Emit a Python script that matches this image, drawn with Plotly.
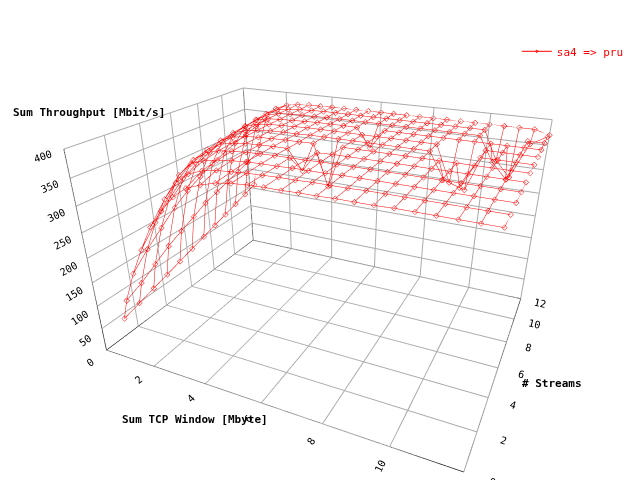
import plotly.graph_objects as go

# Sum TCP window [Mbyte] sampled along each row
windows = [0.25, 0.5, 1, 1.5, 2, 2.5, 3, 3.5, 4, 4.5, 5, 5.5, 6, 6.5, 7, 7.5, 8, 8.5, 9, 9.5, 10, 10.5, 11, 11.5, 12]
streams = [1, 2, 3, 4, 5, 6, 7, 8, 9, 10, 11, 12]

# throughput [Mbit/s], one row per stream count
throughput = [
    [50, 95, 160, 215, 265, 300, 330, 350, 360, 368, 372, 374, 375, 375, 376, 376, 377, 377, 377, 378, 378, 378, 378, 378, 378],
    [60, 110, 190, 250, 300, 335, 355, 365, 370, 372, 374, 375, 376, 376, 377, 377, 377, 378, 378, 378, 378, 378, 378, 378, 378],
    [70, 130, 215, 280, 330, 355, 365, 370, 373, 375, 376, 376, 377, 377, 377, 378, 378, 378, 378, 378, 378, 378, 378, 378, 378],
    [80, 150, 240, 305, 345, 362, 370, 373, 375, 376, 377, 377, 377, 378, 378, 378, 378, 378, 378, 378, 378, 378, 378, 378, 378],
    [90, 165, 260, 320, 352, 366, 372, 375, 376, 377, 377, 340, 377, 378, 378, 378, 378, 378, 378, 378, 378, 378, 378, 378, 378],
    [100, 180, 275, 330, 358, 368, 373, 375, 376, 377, 377, 378, 300, 378, 378, 378, 378, 378, 378, 378, 378, 378, 378, 378, 378],
    [110, 195, 290, 340, 362, 370, 374, 376, 377, 377, 378, 378, 378, 378, 378, 378, 378, 378, 378, 330, 320, 378, 378, 378, 378],
    [120, 205, 300, 345, 365, 372, 375, 376, 377, 378, 378, 378, 378, 378, 378, 378, 378, 378, 378, 310, 300, 378, 378, 378, 378],
    [130, 215, 310, 350, 367, 373, 375, 376, 377, 378, 378, 378, 378, 340, 378, 378, 378, 378, 378, 378, 378, 378, 378, 378, 378],
    [140, 225, 318, 355, 368, 374, 376, 377, 377, 378, 378, 378, 378, 378, 378, 378, 378, 378, 378, 378, 378, 330, 300, 378, 378],
    [150, 235, 325, 358, 370, 374, 376, 377, 378, 378, 378, 378, 378, 378, 378, 378, 378, 378, 378, 378, 378, 320, 290, 360, 378],
    [160, 245, 330, 360, 371, 375, 377, 377, 378, 378, 378, 378, 378, 378, 378, 378, 378, 378, 378, 378, 378, 378, 378, 378, 370],
]

xs, ys, zs = [], [], []
# rows along the window axis
for s, row in zip(streams, throughput):
    xs += windows + [None]
    ys += [s] * len(windows) + [None]
    zs += row + [None]
# columns along the streams axis
for i, w in enumerate(windows):
    xs += [w] * len(streams) + [None]
    ys += streams + [None]
    zs += [row[i] for row in throughput] + [None]

fig = go.Figure()
fig.add_trace(go.Scatter3d(
    x=xs, y=ys, z=zs, mode="lines+markers", name="sa4 => pru",
    line=dict(color="red", width=1),
    marker=dict(symbol="diamond-open", size=2, color="red"),
    connectgaps=False,
))

axis_style = dict(showbackground=False, gridcolor="#aaa", zerolinecolor="black",
                  showline=True, linecolor="black", title_text="",
                  tickfont=dict(size=11, color="black"))
label_font = dict(family="DejaVu Sans Mono", size=11, color="black")
fig.update_layout(
    width=640, height=480, paper_bgcolor="white",
    margin=dict(l=0, r=0, t=0, b=0),
    font=dict(family="DejaVu Sans Mono", color="black"),
    showlegend=True,
    legend=dict(x=0.97, y=0.94, xanchor="right", yanchor="top",
                font=dict(size=11, color="red"), bgcolor="rgba(0,0,0,0)"),
    annotations=[
        dict(text="<b>Sum Throughput [Mbit/s]</b>", x=0.005, y=0.8, xref="paper", yref="paper",
             xanchor="left", showarrow=False, font=label_font),
        dict(text="<b>Sum TCP Window [Mbyte]</b>", x=0.175, y=0.125, xref="paper", yref="paper",
             xanchor="left", showarrow=False, font=label_font),
        dict(text="<b># Streams</b>", x=0.8, y=0.2, xref="paper", yref="paper",
             xanchor="left", showarrow=False, font=label_font),
    ],
    scene=dict(
        xaxis=dict(axis_style, range=[0, 12], dtick=2),
        yaxis=dict(axis_style, range=[0, 12], dtick=2),
        zaxis=dict(axis_style, range=[0, 400], dtick=50),
        aspectmode="manual", aspectratio=dict(x=1.3, y=1.0, z=0.75),
        camera=dict(eye=dict(x=0.8, y=-1.7, z=0.9), center=dict(x=0, y=0, z=-0.05)),
    ),
)
fig.write_html("out.html")
